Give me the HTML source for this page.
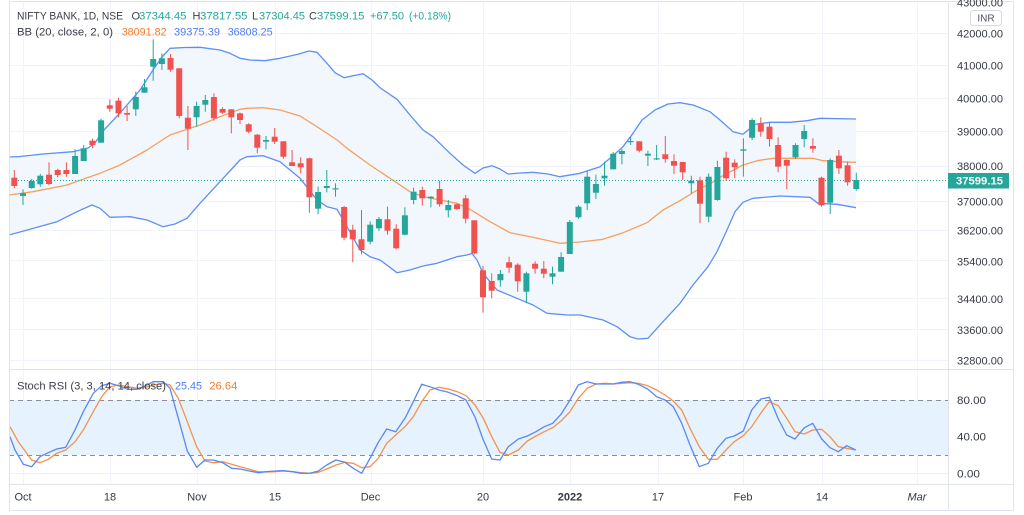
<!DOCTYPE html>
<html><head><meta charset="utf-8"><style>
html,body{margin:0;padding:0;background:#fff;}
body{width:1024px;height:515px;overflow:hidden;}
svg{display:block;}
text{font-family:"Liberation Sans",Arial,sans-serif;}
</style></head><body>
<svg width="1024" height="515" viewBox="0 0 1024 515" xmlns="http://www.w3.org/2000/svg">
<defs>
<clipPath id="cp"><rect x="9" y="1" width="939" height="368"/></clipPath>
<clipPath id="cs"><rect x="9" y="370" width="939" height="114"/></clipPath>
</defs>
<rect width="1024" height="515" fill="#fff"/>
<!-- grid -->
<g stroke="#f0f3fa" stroke-width="1">
<line x1="23.5" y1="1" x2="23.5" y2="484"/><line x1="110.5" y1="1" x2="110.5" y2="484"/><line x1="197.5" y1="1" x2="197.5" y2="484"/><line x1="275.5" y1="1" x2="275.5" y2="484"/><line x1="371.5" y1="1" x2="371.5" y2="484"/><line x1="483.5" y1="1" x2="483.5" y2="484"/><line x1="570.5" y1="1" x2="570.5" y2="484"/><line x1="658.5" y1="1" x2="658.5" y2="484"/><line x1="743.5" y1="1" x2="743.5" y2="484"/><line x1="822.5" y1="1" x2="822.5" y2="484"/><line x1="917.5" y1="1" x2="917.5" y2="484"/>
<line x1="9" y1="33.5" x2="948" y2="33.5"/><line x1="9" y1="65.5" x2="948" y2="65.5"/><line x1="9" y1="98.5" x2="948" y2="98.5"/><line x1="9" y1="131.5" x2="948" y2="131.5"/><line x1="9" y1="166.5" x2="948" y2="166.5"/><line x1="9" y1="201.5" x2="948" y2="201.5"/><line x1="9" y1="230.5" x2="948" y2="230.5"/><line x1="9" y1="260.5" x2="948" y2="260.5"/><line x1="9" y1="298.5" x2="948" y2="298.5"/><line x1="9" y1="329.5" x2="948" y2="329.5"/><line x1="9" y1="360.5" x2="948" y2="360.5"/>
</g>
<!-- price pane -->
<g clip-path="url(#cp)">
<polygon fill="#f2f7fd" points="9,157 20,156.5 43,154 73,151.7 88,148 95,143 103,131 120,113 140,90 153,70 162,57 170,48.3 185,47.5 200,47.3 220,50 230,53.3 240,58.3 250,60 265,60.7 280,58.3 298,54.3 309,51 317,52.3 327,63.3 335,72.7 344,77.7 353,75.7 363,73.7 372,80 380,87.7 397,99.3 410,115 423,130 433,136.7 450,153.3 463,165 475,173.3 483,168 492,165.7 500,169 508,174 520,173 533,172.3 548,174 560,176.7 580,173.3 600,166.7 610,158.3 623,146.7 633,133.3 642,120 655,110 668,104 680,102.7 693,105 710,111.7 720,120 733,131.7 743,134.3 755,124.3 770,122.3 790,122.3 807,120.7 820,118.3 856,119 856,207.7 837,204.3 818,203.3 810,197.3 780,196 753,198.3 743,202.3 735,211.7 727,230 717,251.7 708,266.7 693,285 680,303.3 663,321.7 648,338.3 638,339 630,336.7 617,326.7 603,320 580,315 567,315 547,313.3 533,305 513,296.7 497,290 483,273.3 477,260 472,253.5 467,255 457,256.7 437,263.3 423,266 410,270 397,272.7 380,260 370,256.7 360,250 347,226.7 337,209.3 327,206.7 317,200 300,178.3 280,161.7 263,155.7 247,156.7 240,160 220,181.7 200,203.3 187,218.3 175,224 163,226.7 147,220 130,216.7 110,217.3 100,208.3 92,205 77,211.7 57,221.7 30,229.3 9,235"/>
<polyline fill="none" stroke="#5f8ff5" stroke-width="1.3" stroke-linejoin="round" points="9,157 20,156.5 43,154 73,151.7 88,148 95,143 103,131 120,113 140,90 153,70 162,57 170,48.3 185,47.5 200,47.3 220,50 230,53.3 240,58.3 250,60 265,60.7 280,58.3 298,54.3 309,51 317,52.3 327,63.3 335,72.7 344,77.7 353,75.7 363,73.7 372,80 380,87.7 397,99.3 410,115 423,130 433,136.7 450,153.3 463,165 475,173.3 483,168 492,165.7 500,169 508,174 520,173 533,172.3 548,174 560,176.7 580,173.3 600,166.7 610,158.3 623,146.7 633,133.3 642,120 655,110 668,104 680,102.7 693,105 710,111.7 720,120 733,131.7 743,134.3 755,124.3 770,122.3 790,122.3 807,120.7 820,118.3 856,119"/>
<polyline fill="none" stroke="#5f8ff5" stroke-width="1.3" stroke-linejoin="round" points="9,235 30,229.3 57,221.7 77,211.7 92,205 100,208.3 110,217.3 130,216.7 147,220 163,226.7 175,224 187,218.3 200,203.3 220,181.7 240,160 247,156.7 263,155.7 280,161.7 300,178.3 317,200 327,206.7 337,209.3 347,226.7 360,250 370,256.7 380,260 397,272.7 410,270 423,266 437,263.3 457,256.7 467,255 472,253.5 477,260 483,273.3 497,290 513,296.7 533,305 547,313.3 567,315 580,315 603,320 617,326.7 630,336.7 638,339 648,338.3 663,321.7 680,303.3 693,285 708,266.7 717,251.7 727,230 735,211.7 743,202.3 753,198.3 780,196 810,197.3 818,203.3 837,204.3 856,207.7"/>
<polyline fill="none" stroke="#f5a05e" stroke-width="1.3" stroke-linejoin="round" points="9,195 33,191.7 67,185 100,173.3 120,165 147,150 170,135 200,125 220,116.7 240,109.3 247,108.3 263,107.7 280,110 300,116 317,126.7 337,140 347,148.3 370,165 390,178.3 410,191.7 423,196.7 440,200 457,203.3 470,209.3 490,221.7 510,232.7 533,237.3 560,243.3 580,242 603,239.3 623,232.7 647,222.7 663,210 680,200.7 693,192.7 700,188.3 710,184 720,177.3 743,165 757,160.7 773,158.3 790,158.3 813,158.3 823,160.7 840,161.7 856,162.3"/>
<line x1="9" y1="180.5" x2="948" y2="180.5" stroke="#26a69a" stroke-width="1" stroke-dasharray="1,2"/>
<g fill="#26a69a">
<rect x="20" y="193.3" width="6" height="2.7"/><rect x="22.5" y="189.3" width="1" height="15.7"/>
<rect x="28.7" y="181" width="6" height="7"/><rect x="31.2" y="179" width="1" height="9.7"/>
<rect x="37.3" y="175.7" width="6" height="8.6"/><rect x="39.8" y="174" width="1" height="12.7"/>
<rect x="72.1" y="156" width="6" height="18"/><rect x="74.6" y="149.3" width="1" height="24.7"/>
<rect x="80.7" y="148.3" width="6" height="12.7"/><rect x="83.2" y="145" width="1" height="16"/>
<rect x="98.1" y="120.3" width="6" height="22.4"/><rect x="100.6" y="118.7" width="1" height="24"/>
<rect x="132.8" y="97" width="6" height="12.3"/><rect x="135.3" y="91.7" width="1" height="24.3"/>
<rect x="141.5" y="87.3" width="6" height="5.4"/><rect x="144" y="79" width="1" height="13.7"/>
<rect x="150.2" y="59" width="6" height="7.7"/><rect x="152.7" y="39.3" width="1" height="41.4"/>
<rect x="158.9" y="58.3" width="6" height="5.7"/><rect x="161.4" y="53.3" width="1" height="16.7"/>
<rect x="193.6" y="106" width="6" height="11.3"/><rect x="196.1" y="101.7" width="1" height="25"/>
<rect x="202.3" y="100" width="6" height="4.7"/><rect x="204.8" y="95" width="1" height="16.7"/>
<rect x="263" y="140" width="6" height="1.7"/><rect x="265.5" y="136" width="1" height="13.3"/>
<rect x="315.1" y="192" width="6" height="16.7"/><rect x="317.6" y="186.7" width="1" height="27.6"/>
<rect x="323.8" y="186" width="6" height="2"/><rect x="326.3" y="170" width="1" height="22.3"/>
<rect x="332.5" y="188.3" width="6" height="1.2"/><rect x="335" y="183.3" width="1" height="13.4"/>
<rect x="367.2" y="224.7" width="6" height="17"/><rect x="369.7" y="221.3" width="1" height="23"/>
<rect x="375.9" y="219" width="6" height="9.3"/><rect x="378.4" y="217" width="1" height="14"/>
<rect x="401.9" y="215.3" width="6" height="19.4"/><rect x="404.4" y="207.3" width="1" height="28"/>
<rect x="410.6" y="191.7" width="6" height="8.3"/><rect x="413.1" y="187.7" width="1" height="16.6"/>
<rect x="427.9" y="196.7" width="6" height="1.6"/><rect x="430.4" y="196" width="1" height="11.3"/>
<rect x="445.3" y="205" width="6" height="5.3"/><rect x="447.8" y="200" width="1" height="17.3"/>
<rect x="497.4" y="274" width="6" height="6.3"/><rect x="499.9" y="270" width="1" height="16.7"/>
<rect x="523.4" y="273.3" width="6" height="18.4"/><rect x="525.9" y="271.7" width="1" height="31.6"/>
<rect x="549.5" y="273.3" width="6" height="3.4"/><rect x="552" y="266.7" width="1" height="17.6"/>
<rect x="558.1" y="257" width="6" height="14.7"/><rect x="560.6" y="252.3" width="1" height="19.4"/>
<rect x="566.8" y="222" width="6" height="32"/><rect x="569.3" y="220" width="1" height="34"/>
<rect x="575.5" y="206.7" width="6" height="10.6"/><rect x="578" y="205.3" width="1" height="13.4"/>
<rect x="584.2" y="176.7" width="6" height="26.6"/><rect x="586.7" y="170.7" width="1" height="39.3"/>
<rect x="592.9" y="184" width="6" height="8.7"/><rect x="595.4" y="174.7" width="1" height="24.3"/>
<rect x="601.5" y="175.7" width="6" height="2.6"/><rect x="604" y="161.7" width="1" height="24"/>
<rect x="610.2" y="153.7" width="6" height="15.6"/><rect x="612.7" y="152" width="1" height="17.3"/>
<rect x="618.9" y="151" width="6" height="3"/><rect x="621.4" y="149" width="1" height="15.3"/>
<rect x="627.6" y="141" width="6" height="1.2"/><rect x="630.1" y="136.7" width="1" height="8.3"/>
<rect x="644.9" y="153.7" width="6" height="2"/><rect x="647.4" y="150.7" width="1" height="15.3"/>
<rect x="653.6" y="158.3" width="6" height="1.2"/><rect x="656.1" y="145" width="1" height="15"/>
<rect x="688.3" y="180.7" width="6" height="2.6"/><rect x="690.8" y="175.7" width="1" height="17.6"/>
<rect x="705.7" y="176.7" width="6" height="40"/><rect x="708.2" y="173.3" width="1" height="49"/>
<rect x="714.4" y="167" width="6" height="33"/><rect x="716.9" y="160.7" width="1" height="40"/>
<rect x="740.4" y="149.3" width="6" height="1.4"/><rect x="742.9" y="138.3" width="1" height="38.4"/>
<rect x="749.1" y="120" width="6" height="17.7"/><rect x="751.6" y="118.3" width="1" height="21.7"/>
<rect x="792.5" y="145" width="6" height="12.3"/><rect x="795" y="143.3" width="1" height="15.7"/>
<rect x="801.2" y="131" width="6" height="8"/><rect x="803.7" y="125" width="1" height="22.3"/>
<rect x="827.2" y="160" width="6" height="42.7"/><rect x="829.7" y="158.3" width="1" height="55.7"/>
<rect x="853.3" y="180" width="6" height="9"/><rect x="855.8" y="172.7" width="1" height="18"/>
</g>
<g fill="#ef5350">
<rect x="11.3" y="177.7" width="6" height="8.3"/><rect x="13.8" y="170" width="1" height="18.3"/>
<rect x="46" y="174.7" width="6" height="9.3"/><rect x="48.5" y="162.3" width="1" height="23"/>
<rect x="54.7" y="170" width="6" height="5"/><rect x="57.2" y="168.7" width="1" height="8.6"/>
<rect x="63.4" y="170" width="6" height="4"/><rect x="65.9" y="162.3" width="1" height="14.4"/>
<rect x="89.4" y="140.7" width="6" height="4.3"/><rect x="91.9" y="138.7" width="1" height="9.6"/>
<rect x="106.8" y="105.3" width="6" height="3.4"/><rect x="109.3" y="99.3" width="1" height="12.4"/>
<rect x="115.5" y="100.7" width="6" height="12.6"/><rect x="118" y="97.7" width="1" height="19.6"/>
<rect x="124.1" y="113" width="6" height="1.7"/><rect x="126.6" y="106" width="1" height="15"/>
<rect x="167.5" y="58" width="6" height="11.7"/><rect x="170" y="54" width="1" height="17.7"/>
<rect x="176.2" y="68.3" width="6" height="47.7"/><rect x="178.7" y="68.3" width="1" height="50"/>
<rect x="184.9" y="117.7" width="6" height="11"/><rect x="187.4" y="106" width="1" height="44"/>
<rect x="210.9" y="97" width="6" height="21.3"/><rect x="213.4" y="93.3" width="1" height="27.4"/>
<rect x="219.6" y="109" width="6" height="3.7"/><rect x="222.1" y="107.3" width="1" height="6.7"/>
<rect x="228.3" y="109.3" width="6" height="8"/><rect x="230.8" y="109.3" width="1" height="24"/>
<rect x="237" y="113.3" width="6" height="6.7"/><rect x="239.5" y="112.7" width="1" height="11.3"/>
<rect x="245.7" y="124.3" width="6" height="7.4"/><rect x="248.2" y="123.3" width="1" height="10"/>
<rect x="254.3" y="134.7" width="6" height="13"/><rect x="256.8" y="134" width="1" height="19.3"/>
<rect x="271.7" y="136.7" width="6" height="5"/><rect x="274.2" y="128" width="1" height="16"/>
<rect x="280.4" y="141.3" width="6" height="15.4"/><rect x="282.9" y="141.3" width="1" height="17.4"/>
<rect x="289.1" y="162.3" width="6" height="3.7"/><rect x="291.6" y="150" width="1" height="16"/>
<rect x="297.7" y="163.3" width="6" height="4"/><rect x="300.2" y="157.3" width="1" height="16"/>
<rect x="306.4" y="158.3" width="6" height="39"/><rect x="308.9" y="157.7" width="1" height="55"/>
<rect x="341.1" y="207" width="6" height="30.7"/><rect x="343.6" y="206" width="1" height="34.3"/>
<rect x="349.8" y="229.7" width="6" height="9.6"/><rect x="352.3" y="224.7" width="1" height="37.6"/>
<rect x="358.5" y="239.3" width="6" height="10.7"/><rect x="361" y="210" width="1" height="44.3"/>
<rect x="384.5" y="219.3" width="6" height="11.4"/><rect x="387" y="206.7" width="1" height="28"/>
<rect x="393.2" y="228.7" width="6" height="19.6"/><rect x="395.7" y="224.3" width="1" height="25"/>
<rect x="419.3" y="190" width="6" height="8.3"/><rect x="421.8" y="186.7" width="1" height="19"/>
<rect x="436.6" y="189" width="6" height="15.3"/><rect x="439.1" y="180.7" width="1" height="26"/>
<rect x="454" y="204.3" width="6" height="4.7"/><rect x="456.5" y="203.3" width="1" height="6.4"/>
<rect x="462.7" y="198.3" width="6" height="20.4"/><rect x="465.2" y="195" width="1" height="28.3"/>
<rect x="471.3" y="220.3" width="6" height="33"/><rect x="473.8" y="220.3" width="1" height="34"/>
<rect x="480" y="270.3" width="6" height="27"/><rect x="482.5" y="266" width="1" height="46.7"/>
<rect x="488.7" y="281" width="6" height="9.7"/><rect x="491.2" y="273.3" width="1" height="25"/>
<rect x="506.1" y="262.3" width="6" height="5.4"/><rect x="508.6" y="256.7" width="1" height="16"/>
<rect x="514.7" y="264.7" width="6" height="16.6"/><rect x="517.2" y="263.3" width="1" height="28.4"/>
<rect x="532.1" y="263.7" width="6" height="5"/><rect x="534.6" y="261.3" width="1" height="12.4"/>
<rect x="540.8" y="268.7" width="6" height="5"/><rect x="543.3" y="261" width="1" height="17.3"/>
<rect x="636.3" y="141.3" width="6" height="9.4"/><rect x="638.8" y="141.3" width="1" height="11"/>
<rect x="662.3" y="154.3" width="6" height="4.7"/><rect x="664.8" y="136" width="1" height="26.7"/>
<rect x="671" y="161" width="6" height="4.7"/><rect x="673.5" y="154.3" width="1" height="19.7"/>
<rect x="679.7" y="162" width="6" height="10.3"/><rect x="682.2" y="162" width="1" height="18"/>
<rect x="697" y="180.3" width="6" height="23.4"/><rect x="699.5" y="176.7" width="1" height="46.6"/>
<rect x="723.1" y="157.7" width="6" height="20.6"/><rect x="725.6" y="151.7" width="1" height="29"/>
<rect x="731.7" y="162.7" width="6" height="4.6"/><rect x="734.2" y="159.3" width="1" height="19"/>
<rect x="757.8" y="123.3" width="6" height="8.4"/><rect x="760.3" y="117.3" width="1" height="19.4"/>
<rect x="766.5" y="126.7" width="6" height="12.3"/><rect x="769" y="122.3" width="1" height="24.4"/>
<rect x="775.1" y="145" width="6" height="21.7"/><rect x="777.6" y="137.3" width="1" height="35"/>
<rect x="783.8" y="160" width="6" height="5.7"/><rect x="786.3" y="159.3" width="1" height="30"/>
<rect x="809.9" y="146" width="6" height="2.7"/><rect x="812.4" y="138.3" width="1" height="14.4"/>
<rect x="818.5" y="177.7" width="6" height="27.6"/><rect x="821" y="176.7" width="1" height="30"/>
<rect x="835.9" y="155.7" width="6" height="12.6"/><rect x="838.4" y="150" width="1" height="24"/>
<rect x="844.6" y="165.3" width="6" height="17"/><rect x="847.1" y="161.7" width="1" height="24"/>
</g>
</g>
<!-- stoch pane -->
<g clip-path="url(#cs)">
<rect x="9" y="400" width="939" height="55.3" fill="#e6f2fd"/>
<line x1="9" y1="437.5" x2="948" y2="437.5" stroke="#eef1f7"/>
<line x1="9" y1="473.5" x2="948" y2="473.5" stroke="#eef1f7"/>
<line x1="9" y1="400.5" x2="948" y2="400.5" stroke="#8b8e97" stroke-dasharray="5,4"/>
<line x1="9" y1="455.5" x2="948" y2="455.5" stroke="#8b8e97" stroke-dasharray="5,4"/>
<polyline fill="none" stroke="#f5924a" stroke-width="1.3" stroke-linejoin="round" points="10,426.7 18.3,441.7 31.7,460 40,462.7 48.3,459.3 56.7,453.3 65.7,450 75,441.7 83.3,430 93.3,411.7 101.7,396.7 110,386.7 118.3,385 127.7,386.7 136.7,388.3 145.7,387.3 153.3,385 163.3,383.3 170,385 178.3,398.3 187.3,421.7 196.7,446.7 205,461 213.3,462.7 222.7,461.7 231.7,464.3 240,466.7 249.3,469.3 258.3,471.7 266.7,472 275,471.7 283.3,471 292.7,471.7 301,472.7 310,473.3 318.3,472.3 326.7,469 336,465 345,462.3 353.3,463.3 361.7,467.7 370,466.7 378.3,458.3 386.7,443.3 395.7,435 405,426.7 413.3,416.7 421.7,401.7 430,390 439,387.3 448.3,389 457.3,391.7 466,395.7 475,405 483.3,418.3 491.7,436.7 500,452.3 508.3,455 518.3,450 527.3,441 536,436 544.3,431.7 552.7,427.7 561,421 570,411.7 578.3,398.3 587.3,388.3 596,384 605,383.3 613.3,384 621.7,383.3 630,382.7 638.3,383.3 647.7,385.7 656.7,390 665,395 673.3,401 681.7,410 690,428.3 699.3,446.7 708.3,459.3 717.3,459.3 726,450 734.3,441.7 743.3,435.7 751.7,426.7 760.7,413.3 769.3,401.7 778.3,405.7 786.7,418.3 795,431.7 804.3,434 812.7,430 821.7,429.3 830,436.7 838.3,446.7 846.7,448.3 855.7,450"/>
<polyline fill="none" stroke="#5b87f5" stroke-width="1.3" stroke-linejoin="round" points="10,436.7 15,450 23.3,464.3 31.7,466.7 40,456.7 48.3,452.7 56.7,449 65.7,447.3 75,430 83.3,411.7 93.3,393.3 101.7,385.7 110,383.3 118.3,385.7 127.7,389.3 136.7,389.3 145.7,385.7 153.3,381.7 163.3,381.7 170,388.3 178.3,418.3 187.3,451 196.7,467.3 205,460 213.3,460 222.7,462.7 231.7,468.3 240,469 249.3,471 258.3,472.7 266.7,471.7 275,471 283.3,470.7 292.7,471.7 301,473.3 310,473.3 318.3,471 326.7,465 336,460 345,462.3 353.3,468.3 361.7,473.3 370,458.3 378.3,442.3 386.7,429 395.7,431.7 405,418.3 413.3,401.7 421.7,384.3 430,386.7 439,390 448.3,392.3 457.3,395.7 466,400 475,417 483.3,440 491.7,459 500,460 508.3,446.7 518.3,439 527.3,436 536,431.7 544.3,426.7 552.7,423.3 561,414.3 570,400 578.3,385 587.3,381.7 596,384 605,384 613.3,384 621.7,382.3 630,381.7 638.3,384.3 647.7,389 656.7,396.7 665,400 673.3,406.7 681.7,423.3 690,445 699.3,466.7 708.3,463.3 717.3,448.3 726,438.3 734.3,436 743.3,431 751.7,410 760.7,399 769.3,397.3 778.3,419 786.7,435 795,439 804.3,427.7 812.7,423.3 821.7,439 830,447.7 838.3,451.7 846.7,445.7 855.7,450"/>
</g>
<!-- frame lines -->
<g stroke="#e0e3eb" stroke-width="1" fill="none">
<rect x="9.5" y="1.5" width="1004" height="509"/>
<line x1="9" y1="369.5" x2="1014" y2="369.5"/>
<line x1="9" y1="484.5" x2="1014" y2="484.5"/>
<line x1="948.5" y1="1" x2="948.5" y2="511"/>
</g>
<!-- legends -->
<g font-size="11">
<text y="19.3"><tspan x="17" fill="#3b3e48" textLength="106" lengthAdjust="spacingAndGlyphs">NIFTY BANK, 1D, NSE</tspan></text>
<text y="19.3" fill="#3b3e48"><tspan x="131.5">O</tspan></text>
<text y="19.3" x="139" fill="#26a69a" textLength="47.5" lengthAdjust="spacingAndGlyphs">37344.45</text>
<text y="19.3" x="192.5" fill="#3b3e48">H</text>
<text y="19.3" x="200" fill="#26a69a" textLength="47.5" lengthAdjust="spacingAndGlyphs">37817.55</text>
<text y="19.3" x="252" fill="#3b3e48">L</text>
<text y="19.3" x="259" fill="#26a69a" textLength="46" lengthAdjust="spacingAndGlyphs">37304.45</text>
<text y="19.3" x="309" fill="#3b3e48">C</text>
<text y="19.3" x="317" fill="#26a69a" textLength="47.5" lengthAdjust="spacingAndGlyphs">37599.15</text>
<text y="19.3" x="370" fill="#26a69a" textLength="34" lengthAdjust="spacingAndGlyphs">+67.50</text>
<text y="19.3" x="409" fill="#26a69a" textLength="42" lengthAdjust="spacingAndGlyphs">(+0.18%)</text>
<text y="35.7" x="17" fill="#3b3e48" textLength="96" lengthAdjust="spacingAndGlyphs">BB (20, close, 2, 0)</text>
<text y="35.7" x="121.7" fill="#f57c2c" textLength="45" lengthAdjust="spacingAndGlyphs">38091.82</text>
<text y="35.7" x="174" fill="#4f7ef5" textLength="46" lengthAdjust="spacingAndGlyphs">39375.39</text>
<text y="35.7" x="227.7" fill="#4f7ef5" textLength="45" lengthAdjust="spacingAndGlyphs">36808.25</text>
<text y="389.3" x="17" fill="#3b3e48" textLength="149" lengthAdjust="spacingAndGlyphs">Stoch RSI (3, 3, 14, 14, close)</text>
<text y="389.3" x="175" fill="#4f7ef5" textLength="27" lengthAdjust="spacingAndGlyphs">25.45</text>
<text y="389.3" x="209.3" fill="#f57c2c" textLength="28" lengthAdjust="spacingAndGlyphs">26.64</text>
</g>
<!-- price axis -->
<g font-size="11" fill="#363a45">
<text x="957" y="6.3" textLength="46" lengthAdjust="spacingAndGlyphs">43000.00</text>
<text x="957" y="37.3" textLength="46" lengthAdjust="spacingAndGlyphs">42000.00</text>
<text x="957" y="69.3" textLength="46" lengthAdjust="spacingAndGlyphs">41000.00</text>
<text x="957" y="102.3" textLength="46" lengthAdjust="spacingAndGlyphs">40000.00</text>
<text x="957" y="135.3" textLength="46" lengthAdjust="spacingAndGlyphs">39000.00</text>
<text x="957" y="170" textLength="46" lengthAdjust="spacingAndGlyphs">38000.00</text>
<text x="957" y="205.5" textLength="46" lengthAdjust="spacingAndGlyphs">37000.00</text>
<text x="957" y="234.3" textLength="46" lengthAdjust="spacingAndGlyphs">36200.00</text>
<text x="957" y="265.5" textLength="46" lengthAdjust="spacingAndGlyphs">35400.00</text>
<text x="957" y="303" textLength="46" lengthAdjust="spacingAndGlyphs">34400.00</text>
<text x="957" y="334" textLength="46" lengthAdjust="spacingAndGlyphs">33600.00</text>
<text x="957" y="364.3" textLength="46" lengthAdjust="spacingAndGlyphs">32800.00</text>
<text x="957" y="404" textLength="29" lengthAdjust="spacingAndGlyphs">80.00</text>
<text x="957" y="440.3" textLength="29" lengthAdjust="spacingAndGlyphs">40.00</text>
<text x="957" y="477.3" textLength="23" lengthAdjust="spacingAndGlyphs">0.00</text>
</g>
<rect x="970.5" y="10.5" width="31" height="15" rx="3" fill="#fff" stroke="#d6d9e0"/>
<text x="986" y="21.5" font-size="10" fill="#50535e" text-anchor="middle">INR</text>
<rect x="948" y="173" width="61" height="15.5" fill="#26a69a"/>
<text x="956" y="184.5" font-size="11" font-weight="bold" fill="#fff" textLength="47" lengthAdjust="spacingAndGlyphs">37599.15</text>
<!-- time axis -->
<g font-size="11" fill="#363a45" text-anchor="middle">
<text x="23" y="500.7">Oct</text>
<text x="110" y="500.7">18</text>
<text x="197" y="500.7">Nov</text>
<text x="275" y="500.7">15</text>
<text x="370.5" y="500.7">Dec</text>
<text x="483" y="500.7">20</text>
<text x="570" y="500.7" font-weight="bold">2022</text>
<text x="658" y="500.7">17</text>
<text x="743" y="500.7">Feb</text>
<text x="822" y="500.7">14</text>
<text x="917" y="500.7" font-style="italic">Mar</text>
</g>
</svg>
</body></html>
